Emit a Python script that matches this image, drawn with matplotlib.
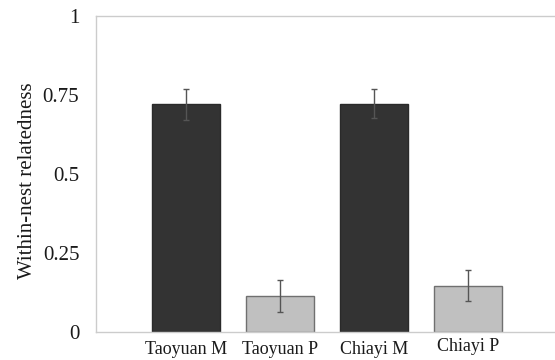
import matplotlib.pyplot as plt
import matplotlib.transforms as mtransforms
import numpy as np

groups = ['Taoyuan M', 'Taoyuan P', 'Chiayi M', 'Chiayi P']
relatedness = [0.72, 0.114, 0.723, 0.147]
errors = [0.049, 0.051, 0.047, 0.05]
bar_colors = ['#333333', '#c0c0c0', '#333333', '#c0c0c0']
edge_colors = ['#2a2a2a', '#707070', '#2a2a2a', '#707070']

plt.rcParams['font.family'] = ['Liberation Serif', 'DejaVu Serif']

fig = plt.figure(figsize=(5.55, 3.6), dpi=100)
ax = fig.add_axes([96 / 555, 1 - 332 / 360, (554 - 96) / 555, (332 - 16) / 360])

x = np.arange(1, len(groups) + 1)
ax.bar(x, relatedness, width=0.72, color=bar_colors, edgecolor=edge_colors,
       linewidth=1.0, zorder=2)
ax.errorbar(x, relatedness, yerr=errors, fmt='none', ecolor='#555555',
            elinewidth=1.0, capsize=2.5, capthick=1.0, zorder=3)

ax.set_xlim(0.045, 4.91)
ax.set_ylim(0, 1)
ax.set_yticks([0, 0.25, 0.5, 0.75, 1])
ax.set_yticklabels(['0', '0.25', '0.5', '0.75', '1'])
ax.set_xticks(x)
ax.set_xticklabels(groups)
ax.tick_params(axis='both', length=0, colors='#1a1a1a')
ax.tick_params(axis='y', pad=12, labelsize=15)
ax.tick_params(axis='x', pad=6.5, labelsize=13)

# last label sits a little higher in the original
lbl = ax.get_xticklabels()[-1]
lbl.set_transform(lbl.get_transform() + mtransforms.ScaledTranslation(0, 2 / 72, fig.dpi_scale_trans))

ax.spines['right'].set_visible(False)
for side in ['left', 'bottom', 'top']:
    ax.spines[side].set_color('#cccccc')
    ax.spines[side].set_linewidth(1.0)

ax.set_ylabel('Within-nest relatedness', fontsize=15, color='#1a1a1a')
ax.yaxis.set_label_coords(-(96 - 37) / 458, 0.48)

fig.savefig('out.png', dpi=100)
